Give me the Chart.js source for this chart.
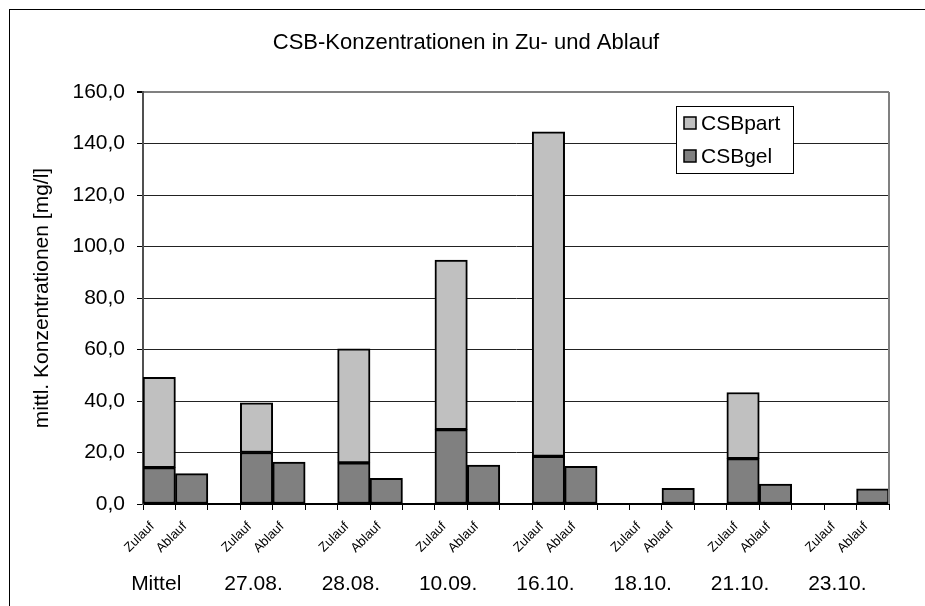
<!DOCTYPE html>
<html>
<head>
<meta charset="utf-8">
<title>CSB-Konzentrationen in Zu- und Ablauf</title>
<script src="https://cdn.jsdelivr.net/npm/chart.js@4.4.0/dist/chart.umd.min.js"></script>
<style>
    html, body { margin: 0; padding: 0; background: #fff; }
    #wrap { width: 925px; height: 606px; }
</style>
</head>
<body>
<div id="wrap"><canvas id="csbChart"></canvas></div>
<script>
const chartTitle = 'CSB-Konzentrationen in Zu- und Ablauf';
const yAxisTitle = 'mittl. Konzentrationen [mg/l]';
const groups = ['Mittel', '27.08.', '28.08.', '10.09.', '16.10.', '18.10.', '21.10.', '23.10.'];
const barNames = ['Zulauf', 'Ablauf'];
const seriesNames = ['CSBgel', 'CSBpart'];

// mg/l
const zulaufGel  = [14.1, 20.0, 16.0, 28.9, 18.5, null, 17.6, null];
const zulaufPart = [35.1, 19.3, 44.3, 65.8, 126.0, null, 25.7, null];
const ablaufGel  = [11.8, 16.3, 10.0, 15.1, 14.6, 6.1, 7.7, 5.9];
const ablaufPart = [null, null, null, null, null, null, null, null];

const yMin = 0;
const yMax = 160;
const yStep = 20;

const FONT = "'Liberation Sans', Arial, sans-serif";
Chart.defaults.font.family = FONT;
Chart.defaults.color = '#000';

// flatten into categories: Zulauf, Ablauf, gap
const labels = [];
const gelData = [];
const partData = [];
const groupStart = [];

groups.forEach((g, i) => {
    groupStart.push(labels.length);
    labels.push(barNames[0]);
    gelData.push(zulaufGel[i]);
    partData.push(zulaufPart[i]);
    labels.push(barNames[1]);
    gelData.push(ablaufGel[i]);
    partData.push(ablaufPart[i]);
    if (i < groups.length - 1) {
        labels.push('');
        gelData.push(null);
        partData.push(null);
    }
});

const extrasPlugin = {
    id: 'extras',
    beforeDraw(chart) {
        const ctx = chart.ctx;
        ctx.save();
        ctx.strokeStyle = '#000';
        ctx.lineWidth = 1;
        ctx.strokeRect(9.5, 9.5, chart.width + 20, chart.height + 20);
        ctx.restore();
    },
    afterDraw(chart) {
        const ctx = chart.ctx;
        const area = chart.chartArea;
        const x = chart.scales.x;
        ctx.save();

        // right frame of the plot
        ctx.strokeStyle = '#808080';
        ctx.lineWidth = 2;
        ctx.beginPath();
        ctx.moveTo(area.right, area.top);
        ctx.lineTo(area.right, area.bottom);
        ctx.stroke();

        // title
        ctx.fillStyle = '#000';
        ctx.font = '22px ' + FONT;
        ctx.textAlign = 'center';
        ctx.textBaseline = 'middle';
        ctx.fillText(chartTitle, 466, 43);

        // group labels under the rotated ticks
        ctx.font = '21px ' + FONT;
        groups.forEach((g, i) => {
            const px = x.getPixelForValue(groupStart[i]);
            ctx.fillText(g, px - 3, area.bottom + 80);
        });

        // legend box
        const boxR = area.right - 96;
        const boxL = boxR - 117;
        const boxT = area.top + 14;
        const boxH = 67;
        ctx.fillStyle = '#fff';
        ctx.fillRect(boxL, boxT, boxR - boxL, boxH);
        ctx.strokeStyle = '#000';
        ctx.lineWidth = 1;
        ctx.strokeRect(boxL + 0.5, boxT + 0.5, boxR - boxL, boxH);

        const items = chart.data.datasets.slice().reverse();
        ctx.font = '21px ' + FONT;
        ctx.textAlign = 'left';
        items.forEach((ds, k) => {
            const cy = boxT + 17 + k * 33;
            ctx.fillStyle = ds.backgroundColor;
            ctx.fillRect(boxL + 8, cy - 6, 12, 12);
            ctx.strokeStyle = '#000';
            ctx.lineWidth = 1.5;
            ctx.strokeRect(boxL + 8, cy - 6, 12, 12);
            ctx.fillStyle = '#000';
            ctx.fillText(ds.label, boxL + 25, cy + 1);
        });
        ctx.restore();
    }
};

new Chart(document.getElementById('csbChart'), {
    type: 'bar',
    data: {
        labels: labels,
        datasets: [
            {
                label: seriesNames[0],
                data: gelData,
                backgroundColor: '#808080',
                borderColor: '#000',
                borderWidth: 2,
                borderSkipped: false,
                stack: 'csb'
            },
            {
                label: seriesNames[1],
                data: partData,
                backgroundColor: '#C0C0C0',
                borderColor: '#000',
                borderWidth: 2,
                borderSkipped: false,
                stack: 'csb'
            }
        ]
    },
    options: {
        responsive: true,
        maintainAspectRatio: false,
        animation: false,
        categoryPercentage: 1,
        barPercentage: 1,
        layout: { padding: { left: 0, right: 36, top: 92, bottom: 0 } },
        plugins: {
            legend: { display: false },
            title: { display: false },
            tooltip: { enabled: false }
        },
        scales: {
            x: {
                stacked: true,
                afterFit: s => { s.height = 102; },
                grid: {
                    display: true,
                    drawOnChartArea: false,
                    offset: true,
                    tickLength: 6,
                    color: '#000'
                },
                border: { color: '#000', width: 2 },
                ticks: {
                    autoSkip: false,
                    maxRotation: 45,
                    minRotation: 45,
                    padding: 9,
                    labelOffset: -7,
                    font: { size: 13 },
                    color: '#000'
                }
            },
            y: {
                stacked: true,
                min: yMin,
                max: yMax,
                afterFit: s => { s.width = 143; },
                ticks: {
                    stepSize: yStep,
                    padding: 12,
                    font: { size: 21 },
                    color: '#000',
                    callback: v => v.toFixed(1).replace('.', ',')
                },
                grid: {
                    color: c => c.tick.value === yMax ? '#808080' : '#222',
                    lineWidth: c => c.tick.value === yMax ? 2 : 1,
                    tickColor: '#000',
                    tickLength: 6
                },
                border: { color: '#505050', width: 2 },
                title: {
                    display: true,
                    text: yAxisTitle,
                    font: { size: 21 },
                    color: '#000',
                    padding: { top: 30, bottom: 0 }
                }
            }
        }
    },
    plugins: [extrasPlugin]
});
</script>
</body>
</html>
